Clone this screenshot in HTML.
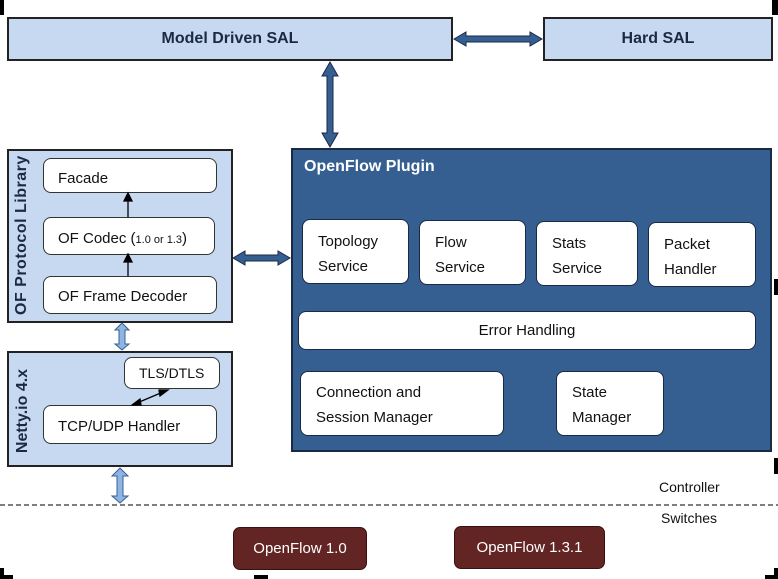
<!DOCTYPE html>
<html><head><style>
body{margin:0;width:778px;height:579px;background:#fff;position:relative;overflow:hidden;font-family:"Liberation Sans","DejaVu Sans",sans-serif}
.a{position:absolute;box-sizing:border-box}
.lb{background:#c6d9f0;border:2px solid #222}
.w{background:#fff;border:1px solid #333;border-radius:8px;font-size:15px;color:#111}
.wb{border:1px solid #1a2a44}
.t{position:absolute;white-space:nowrap}
</style></head><body>
<div class="a lb" style="left:7px;top:17px;width:446px;height:44px;font-weight:bold;font-size:16px;color:#1a2a44;text-align:center;line-height:40px">Model Driven SAL</div>
<div class="a lb" style="left:543px;top:17px;width:230px;height:44px;font-weight:bold;font-size:16px;color:#1a2a44;text-align:center;line-height:40px">Hard SAL</div>

<div class="a lb" style="left:7px;top:149px;width:226px;height:174px"></div>
<div class="t" style="left:-56px;top:228px;width:156px;text-align:center;transform:rotate(-90deg);font-weight:bold;font-size:16px;color:#1a2a44;letter-spacing:0.5px">OF Protocol Library</div>
<div class="a w" style="left:43px;top:158px;width:174px;height:35px;padding:11px 0 0 14px">Facade</div>
<div class="a w" style="left:43px;top:217px;width:172px;height:38px;padding:12px 0 0 14px">OF Codec (<span style="font-size:11px">1.0 or 1.3</span>)</div>
<div class="a w" style="left:43px;top:276px;width:174px;height:38px;padding:11px 0 0 14px">OF Frame Decoder</div>

<div class="a lb" style="left:7px;top:351px;width:226px;height:116px"></div>
<div class="t" style="left:-24px;top:402px;width:94px;text-align:center;transform:rotate(-90deg);font-weight:bold;font-size:16px;color:#1a2a44">Netty.io 4.x</div>
<div class="a w" style="left:124px;top:357px;width:96px;height:32px;padding:7px 0 0 14px;font-size:14px">TLS/DTLS</div>
<div class="a w" style="left:43px;top:405px;width:174px;height:39px;padding:12px 0 0 14px">TCP/UDP Handler</div>

<div class="a" style="left:291px;top:148px;width:481px;height:304px;background:#365f91;border:2px solid #1a2a44"></div>
<div class="t" style="left:304px;top:158px;color:#fff;font-weight:bold;font-size:16px">OpenFlow Plugin</div>
<div class="a w wb" style="left:302px;top:219px;width:107px;height:65px;padding:9px 0 0 15px;line-height:25px">Topology<br>Service</div>
<div class="a w wb" style="left:419px;top:220px;width:107px;height:65px;padding:9px 0 0 15px;line-height:25px">Flow<br>Service</div>
<div class="a w wb" style="left:536px;top:221px;width:102px;height:65px;padding:9px 0 0 15px;line-height:25px">Stats<br>Service</div>
<div class="a w wb" style="left:648px;top:222px;width:108px;height:65px;padding:9px 0 0 15px;line-height:25px">Packet<br>Handler</div>
<div class="a w wb" style="left:298px;top:311px;width:458px;height:39px;text-align:center;line-height:37px">Error Handling</div>
<div class="a w wb" style="left:300px;top:371px;width:204px;height:65px;padding:8px 0 0 15px;line-height:25px">Connection and<br>Session Manager</div>
<div class="a w wb" style="left:556px;top:371px;width:108px;height:65px;padding:8px 0 0 15px;line-height:25px">State<br>Manager</div>

<svg class="a" style="left:0;top:0" width="778" height="579">
<g fill="#365f91" stroke="#1a2a44" stroke-width="1">
<polygon points="454,39 466,32 466,36 530,36 530,32 542,39 530,46 530,42 466,42 466,46"/>
<polygon points="330,62 338,76 333,76 333,133 338,133 330,147 322,133 327,133 327,76 322,76"/>
<polygon points="233,258 245,251 245,255 278,255 278,251 290,258 278,265 278,261 245,261 245,265"/>
</g>
<g fill="#8eb4e3" stroke="#365f91" stroke-width="1">
<polygon points="122,323 129,330 125,330 125,344 129,344 122,350 115,344 119,344 119,330 115,330"/>
<polygon points="120,468 128,476 123,476 123,496 128,496 120,503 112,496 117,496 117,476 112,476"/>
</g>
<g stroke="#000" stroke-width="1.3" fill="#000">
<line x1="128" y1="276" x2="128" y2="261"/><polygon points="124,262 132,262 128,254"/>
<line x1="128" y1="217" x2="128" y2="200"/><polygon points="124,201 132,201 128,193"/>
<line x1="137" y1="403" x2="163" y2="392"/><polygon points="132,405 140,399 141,405"/><polygon points="168,390 160,396 159,390"/>
</g>
<line x1="0" y1="505" x2="778" y2="505" stroke="#555" stroke-width="1.5" stroke-dasharray="5,3"/>
<g fill="#000">
<rect x="0" y="0" width="4" height="15"/>
<rect x="0" y="568" width="4" height="11"/><rect x="0" y="575" width="13" height="4"/>
<rect x="254" y="575" width="14" height="4"/>
<rect x="772" y="0" width="6" height="15"/>
<rect x="774" y="279" width="4" height="16"/>
<rect x="774" y="458" width="4" height="16"/>
<rect x="774" y="568" width="4" height="11"/><rect x="765" y="575" width="13" height="4"/>
</g>
</svg>
<div class="t" style="left:659px;top:479px;font-size:14px;color:#111">Controller</div>
<div class="t" style="left:661px;top:510px;font-size:14px;color:#111">Switches</div>
<div class="a" style="left:233px;top:527px;width:134px;height:43px;background:#632523;border:1px solid #3a1010;border-radius:7px;color:#fff;font-size:15px;text-align:center;line-height:41px">OpenFlow 1.0</div>
<div class="a" style="left:454px;top:526px;width:151px;height:43px;background:#632523;border:1px solid #3a1010;border-radius:7px;color:#fff;font-size:15px;text-align:center;line-height:41px">OpenFlow 1.3.1</div>
</body></html>
